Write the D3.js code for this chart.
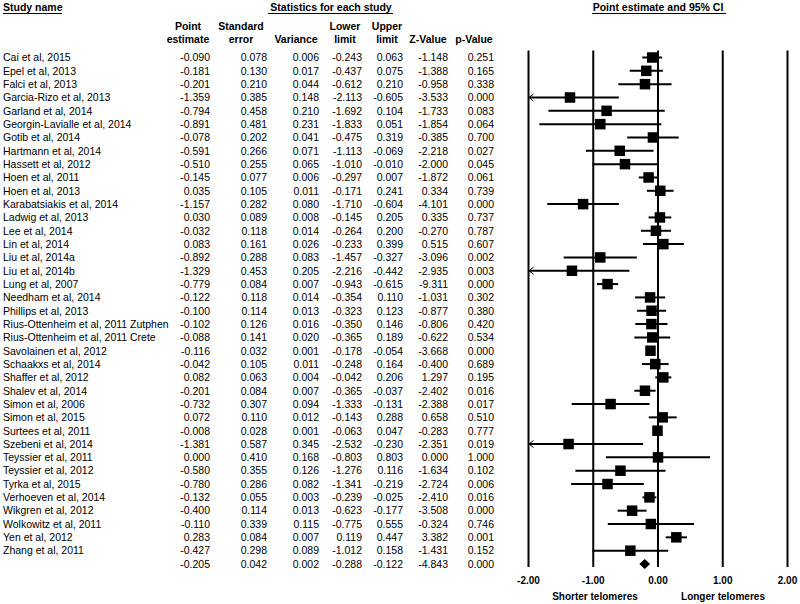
<!DOCTYPE html>
<html><head><meta charset="utf-8">
<script src="https://cdn.jsdelivr.net/npm/d3@7"></script>
<style>
body{margin:0;background:#fff;}
svg{display:block;}
text{font-family:"Liberation Sans",Arial,sans-serif;fill:#000;}
</style></head>
<body><svg id="c" width="800" height="604"></svg>
<script>
const studies = ["Cai et al, 2015","Epel et al, 2013","Falci et al, 2013","Garcia-Rizo et al, 2013","Garland et al, 2014","Georgin-Lavialle et al, 2014","Gotib et al, 2014","Hartmann et al, 2014","Hassett et al, 2012","Hoen et al, 2011","Hoen et al, 2013","Karabatsiakis et al, 2014","Ladwig et al, 2013","Lee et al, 2014","Lin et al, 2014","Liu et al, 2014a","Liu et al, 2014b","Lung et al, 2007","Needham et al, 2014","Phillips et al, 2013","Rius-Ottenheim et al, 2011 Zutphen","Rius-Ottenheim et al, 2011 Crete","Savolainen et al, 2012","Schaakxs et al, 2014","Shaffer et al, 2012","Shalev et al, 2014","Simon et al, 2006","Simon et al, 2015","Surtees et al, 2011","Szebeni et al, 2014","Teyssier et al, 2011","Teyssier et al, 2012","Tyrka et al, 2015","Verhoeven et al, 2014","Wikgren et al, 2012","Wolkowitz et al, 2011","Yen et al, 2012","Zhang et al, 2011",""];
const pointEst = [-0.090,-0.181,-0.201,-1.359,-0.794,-0.891,-0.078,-0.591,-0.510,-0.145,0.035,-1.157,0.030,-0.032,0.083,-0.892,-1.329,-0.779,-0.122,-0.100,-0.102,-0.088,-0.116,-0.042,0.082,-0.201,-0.732,0.072,-0.008,-1.381,0.000,-0.580,-0.780,-0.132,-0.400,-0.110,0.283,-0.427,-0.205];
const stdErr = [0.078,0.130,0.210,0.385,0.458,0.481,0.202,0.266,0.255,0.077,0.105,0.282,0.089,0.118,0.161,0.288,0.453,0.084,0.118,0.114,0.126,0.141,0.032,0.105,0.063,0.084,0.307,0.110,0.028,0.587,0.410,0.355,0.286,0.055,0.114,0.339,0.084,0.298,0.042];
const variance = [0.006,0.017,0.044,0.148,0.210,0.231,0.041,0.071,0.065,0.006,0.011,0.080,0.008,0.014,0.026,0.083,0.205,0.007,0.014,0.013,0.016,0.020,0.001,0.011,0.004,0.007,0.094,0.012,0.001,0.345,0.168,0.126,0.082,0.003,0.013,0.115,0.007,0.089,0.002];
const lowerLim = [-0.243,-0.437,-0.612,-2.113,-1.692,-1.833,-0.475,-1.113,-1.010,-0.297,-0.171,-1.710,-0.145,-0.264,-0.233,-1.457,-2.216,-0.943,-0.354,-0.323,-0.350,-0.365,-0.178,-0.248,-0.042,-0.365,-1.333,-0.143,-0.063,-2.532,-0.803,-1.276,-1.341,-0.239,-0.623,-0.775,0.119,-1.012,-0.288];
const upperLim = [0.063,0.075,0.210,-0.605,0.104,0.051,0.319,-0.069,-0.010,0.007,0.241,-0.604,0.205,0.200,0.399,-0.327,-0.442,-0.615,0.110,0.123,0.146,0.189,-0.054,0.164,0.206,-0.037,-0.131,0.288,0.047,-0.230,0.803,0.116,-0.219,-0.025,-0.177,0.555,0.447,0.158,-0.122];
const zValue = [-1.148,-1.388,-0.958,-3.533,-1.733,-1.854,-0.385,-2.218,-2.000,-1.872,0.334,-4.101,0.335,-0.270,0.515,-3.096,-2.935,-9.311,-1.031,-0.877,-0.806,-0.622,-3.668,-0.400,1.297,-2.402,-2.388,0.658,-0.283,-2.351,0.000,-1.634,-2.724,-2.410,-3.508,-0.324,3.382,-1.431,-4.843];
const pValue = [0.251,0.165,0.338,0.000,0.083,0.064,0.700,0.027,0.045,0.061,0.739,0.000,0.737,0.787,0.607,0.002,0.003,0.000,0.302,0.380,0.420,0.534,0.000,0.689,0.195,0.016,0.017,0.510,0.777,0.019,1.000,0.102,0.006,0.016,0.000,0.746,0.001,0.152,0.000];
const xTicks = [-2,-1,0,1,2];

const rows = studies.map((s,i)=>({name:s,pe:pointEst[i],se:stdErr[i],v:variance[i],lo:lowerLim[i],hi:upperLim[i],z:zValue[i],p:pValue[i],overall:i===studies.length-1}));

const svg = d3.select("#c");
const y = d3.scalePoint().domain(d3.range(rows.length)).range([57.5,564]);
const x = d3.scaleLinear().domain([-2,2]).range([528.5,787.5]);
const f3 = d3.format(".3f");
const fs = 10.5;

// headers
function hdr(txt,xx,yy,anchor,under){
  const t = svg.append("text").attr("x",xx).attr("y",yy).attr("text-anchor",anchor)
    .attr("font-size",fs).attr("font-weight","bold").text(txt);
  if(under){ svg.append("line").attr("x1",under[0]).attr("x2",under[1]).attr("y1",yy+2.5).attr("y2",yy+2.5).attr("stroke","#000").attr("stroke-width",1); }
}
hdr("Study name",3,11,"start",[3,62]);
hdr("Statistics for each study",331,11,"middle",[268,393]);
hdr("Point estimate and 95% CI",658,11,"middle",[592,726]);
const colX = [210,267,319,362,403,448,494];
const colC = [188,241,296,345,387,428,474];
const head1 = ["Point","Standard","","Lower","Upper","",""];
const head2 = ["estimate","error","Variance","limit","limit","Z-Value","p-Value"];
colC.forEach((c,i)=>{ if(head1[i]) hdr(head1[i],c,30,"middle"); hdr(head2[i],c,42.5,"middle"); });

// table body
const keys = ["pe","se","v","lo","hi","z","p"];
const g = svg.append("g");
rows.forEach((r,i)=>{
  const yy = y(i)+3.8;
  g.append("text").attr("x",3).attr("y",yy).attr("font-size",fs).text(r.name);
  keys.forEach((k,j)=>{
    g.append("text").attr("x",colX[j]).attr("y",yy).attr("font-size",fs).attr("text-anchor","end").text(f3(r[k]).replace("−","-"));
  });
});

// grid lines
svg.append("g").selectAll("line").data(xTicks).join("line")
  .attr("x1",d=>x(d)).attr("x2",d=>x(d)).attr("y1",50.5).attr("y2",567)
  .attr("stroke","#000").attr("stroke-width",2);
svg.append("g").selectAll("text").data(xTicks).join("text")
  .attr("x",d=>x(d)).attr("y",584).attr("text-anchor","middle").attr("font-size",10)
  .attr("font-weight","bold").text(d=>d3.format(".2f")(d).replace("−","-"));
svg.append("text").attr("x",595).attr("y",600).attr("text-anchor","middle").attr("font-size",10).attr("font-weight","bold").text("Shorter telomeres");
svg.append("text").attr("x",723).attr("y",600).attr("text-anchor","middle").attr("font-size",10).attr("font-weight","bold").text("Longer telomeres");

// CI lines, squares, arrows
const pg = svg.append("g");
rows.filter(r=>!r.overall).forEach(r=>{
  const i = rows.indexOf(r);
  const yy = y(i);
  const lo = Math.max(r.lo,-2), hi = Math.min(r.hi,2);
  pg.append("line").attr("x1",x(lo)).attr("x2",x(hi)).attr("y1",yy).attr("y2",yy).attr("stroke","#000").attr("stroke-width",2);
  if(r.lo < -2){
    pg.append("path").attr("d",`M${x(-2)+5},${yy-3.5}L${x(-2)+0.5},${yy}L${x(-2)+5},${yy+3.5}`).attr("fill","none").attr("stroke","#000").attr("stroke-width",1);
  }
  const s = 10.5;
  pg.append("rect").attr("x",x(r.pe)-s/2).attr("y",yy-s/2).attr("width",s).attr("height",s).attr("fill","#000");
});
const ov = rows[rows.length-1];
const oy = y(rows.length-1);
pg.append("path").attr("d",`M${x(ov.lo)},${oy}L${x(ov.pe)},${oy-5}L${x(ov.hi)},${oy}L${x(ov.pe)},${oy+5}Z`).attr("fill","#000");
</script></body></html>
